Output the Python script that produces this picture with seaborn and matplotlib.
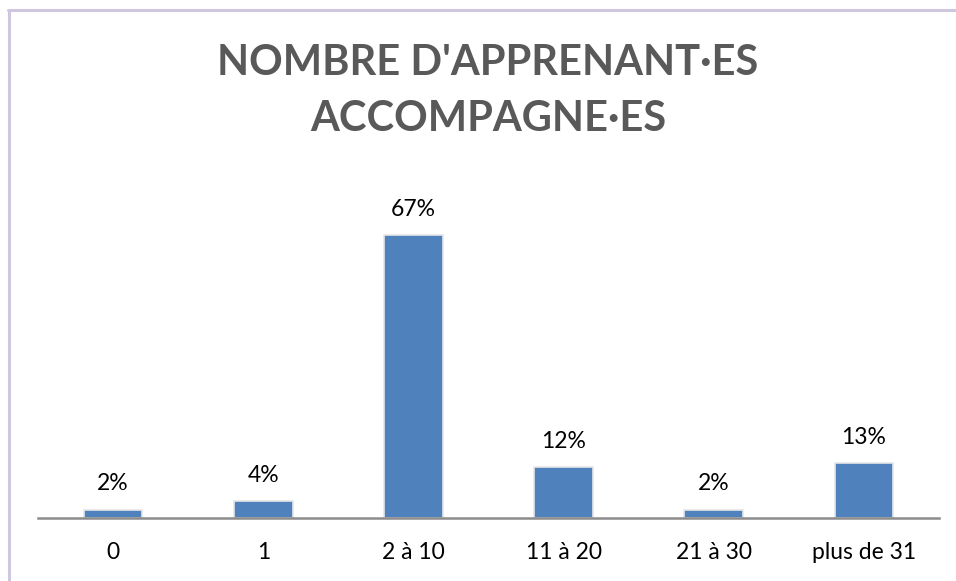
import matplotlib
matplotlib.use("Agg")
import matplotlib.pyplot as plt
from matplotlib.lines import Line2D
import seaborn as sns
import pandas as pd

categories = ["0", "1", "2 à 10", "11 à 20", "21 à 30", "plus de 31"]
values = [2, 4, 67, 12, 2, 13]
labels = ["2%", "4%", "67%", "12%", "2%", "13%"]
title = "NOMBRE D'APPRENANT·ES\nACCOMPAGNE·ES"

sns.set_theme(style="white")
plt.rcParams['font.family'] = ['Lato', 'DejaVu Sans']

df = pd.DataFrame({"cat": categories, "val": values})

W, H = 956, 581
fig = plt.figure(figsize=(W / 100, H / 100), dpi=100)
px_per = 4.224
ymax = 75
bottom_px = 518
top_px = bottom_px - ymax * px_per
ax = fig.add_axes([38 / W, (H - bottom_px) / H, 901 / W, (bottom_px - top_px) / H])

sns.barplot(data=df, x="cat", y="val", ax=ax, color="#4F81BD", saturation=1,
            width=0.39, edgecolor="#E6E6E6", linewidth=1.2)
ax.set_ylim(0, ymax)
ax.set_xlim(-0.5, len(categories) - 0.5)
ax.set_xlabel("")
ax.set_ylabel("")
ax.set_yticks([])
for s in ["top", "left", "right"]:
    ax.spines[s].set_visible(False)
ax.spines["bottom"].set_color("#8C8C8C")
ax.spines["bottom"].set_linewidth(1.8)
ax.tick_params(axis="x", length=0, pad=17, labelsize=16.5, colors="#000000")

for i, (v, lab) in enumerate(zip(values, labels)):
    ax.text(i, v + 3.6, lab, ha="center", va="bottom", fontsize=16.5, color="#000000")

fig.text(488 / W, 1 - 91 / H, title, ha="center", va="center", fontsize=30,
         fontweight="bold", color="#595959", linespacing=1.55)

fig.add_artist(Line2D([8 / W, 1], [1 - 9.5 / H, 1 - 9.5 / H], color="#CFC6E0", lw=2.2))
fig.add_artist(Line2D([8.5 / W, 8.5 / W], [0, 1 - 9.5 / H], color="#CFC6E0", lw=2.2))

fig.savefig("out.png", dpi=100)
